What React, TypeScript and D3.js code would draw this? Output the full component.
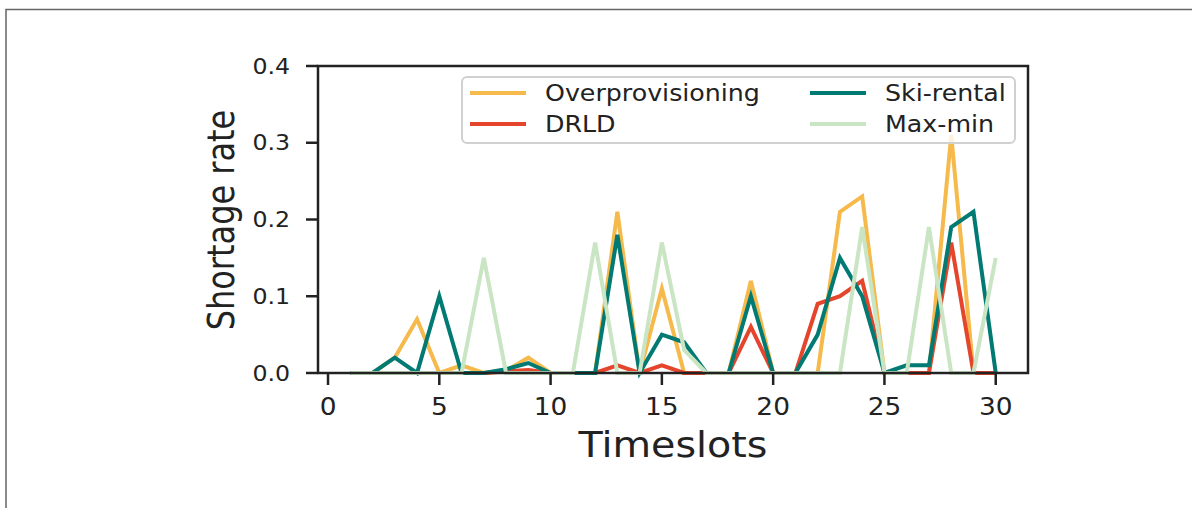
import * as d3 from "d3";

const timeslots = d3.range(1, 31);
const overprovisioning = [0, 0, 0.02, 0.07, 0, 0.01, 0, 0.003, 0.02, 0, 0, 0, 0.21, 0, 0.11, 0, 0, 0, 0.12, 0, 0, 0, 0.21, 0.23, 0, 0, 0, 0.31, 0, 0];
const drld = [0, 0, 0, 0, 0, 0, 0, 0.002, 0.004, 0, 0, 0, 0.01, 0, 0.01, 0, 0, 0, 0.06, 0, 0, 0.09, 0.1, 0.12, 0, 0, 0, 0.17, 0, 0];
const skiRental = [0, 0, 0.02, 0, 0.1, 0, 0, 0.005, 0.013, 0, 0, 0, 0.18, 0, 0.05, 0.04, 0, 0, 0.1, 0, 0, 0.05, 0.15, 0.1, 0, 0.01, 0.01, 0.19, 0.21, 0];
const maxMin = [0, 0, 0, 0, 0, 0, 0.15, 0, 0, 0, 0, 0.17, 0, 0, 0.17, 0.03, 0, 0, 0, 0, 0, 0, 0, 0.19, 0, 0, 0.19, 0, 0, 0.15];

const seriesNames = ["Overprovisioning", "DRLD", "Ski-rental", "Max-min"];
const seriesColors = ["#f6b94b", "#e4452b", "#007a72", "#c9e5c3"];
const xTicks = [0, 5, 10, 15, 20, 25, 30];
const yTicks = [0, 0.1, 0.2, 0.3, 0.4];

const font = "DejaVu Sans";
const ink = "#222";
// the source figure was stretched sideways a little
const stretch = 1.1;

function Txt({ x, y, size, anchor = "start", dy = "0", children }: any) {
  return (
    <text transform={`translate(${x},${y}) scale(${stretch},1)`} dy={dy} textAnchor={anchor} fontSize={size} fill={ink}>
      {children}
    </text>
  );
}

export default function App() {
  const width = 1192;
  const height = 508;
  const left = 318, right = 1028, top = 66, bottom = 373;

  // matplotlib-style 5% margins on x
  const x = d3.scaleLinear().domain([-0.45, 31.45]).range([left, right]);
  const y = d3.scaleLinear().domain([0, 0.4]).range([bottom, top]);

  const line = d3.line<number>()
    .x((d, i) => x(timeslots[i]))
    .y((d) => y(d));

  const allSeries = [overprovisioning, drld, skiRental, maxMin];

  // legend layout: two columns, column-first
  const legendRows = [93, 124];
  const legendCols = [470, 810];

  return (
    <svg width={width} height={height} style={{ position: "absolute", left: 0, top: 0 }} fontFamily={font}>
      <rect width={width} height={height} fill="#fff" />
      {/* outer figure frame (top and left edges only) */}
      <path d={`M6,${height} V9.5 H${width}`} fill="none" stroke="#666" strokeWidth={1.5} />

      {/* series */}
      {allSeries.map((s, k) => (
        <path key={k} d={line(s)!} fill="none" stroke={seriesColors[k]} strokeWidth={4} />
      ))}

      {/* spines */}
      <rect x={left} y={top} width={right - left} height={bottom - top} fill="none" stroke={ink} strokeWidth={2.5} />

      {/* y axis */}
      {yTicks.map((t) => (
        <g key={t}>
          <line x1={left - 12} x2={left} y1={y(t)} y2={y(t)} stroke={ink} strokeWidth={2.5} />
          <Txt x={290} y={y(t)} dy="0.36em" anchor="end" size={21.5}>{t.toFixed(1)}</Txt>
        </g>
      ))}

      {/* x axis */}
      {xTicks.map((t) => (
        <g key={t}>
          <line x1={x(t)} x2={x(t)} y1={bottom} y2={bottom + 12} stroke={ink} strokeWidth={2.5} />
          <Txt x={x(t)} y={415} anchor="middle" size={24}>{t}</Txt>
        </g>
      ))}

      <Txt x={673} y={457} anchor="middle" size={36}>Timeslots</Txt>
      <text transform={`translate(234,220) rotate(-90) scale(1,1.15)`} textAnchor="middle" fontSize={32} fill={ink}>Shortage rate</text>

      {/* legend */}
      <rect x={462} y={77} width={553} height={66} rx={5} fill="#fff" fillOpacity={0.8} stroke="#d0d0d0" strokeWidth={2} />
      {seriesNames.map((name, k) => {
        const cx = legendCols[Math.floor(k / 2)];
        const cy = legendRows[k % 2];
        return (
          <g key={name}>
            <line x1={cx} x2={cx + 56} y1={cy} y2={cy} stroke={seriesColors[k]} strokeWidth={4} />
            <Txt x={cx + 75} y={cy} dy="0.36em" size={23}>{name}</Txt>
          </g>
        );
      })}
    </svg>
  );
}
